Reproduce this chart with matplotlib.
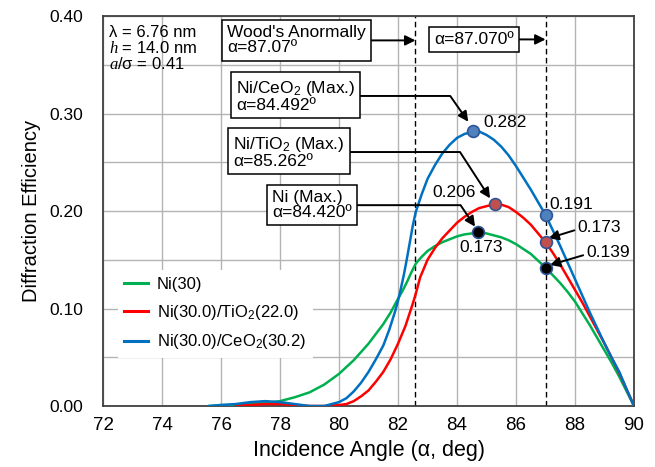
import matplotlib
matplotlib.use('Agg')
import matplotlib.pyplot as plt

plt.rcParams['font.family'] = ['Liberation Sans', 'DejaVu Sans']
plt.rcParams['mathtext.fontset'] = 'custom'
plt.rcParams['mathtext.rm'] = 'Liberation Sans'
plt.rcParams['mathtext.it'] = 'Liberation Serif:italic'

#   Curves (incidence angle in deg, efficiency)
ni_x = [75.6, 76.0, 76.5, 77.0, 77.5, 78.0, 78.5, 79.0, 79.5, 80.0, 80.5, 81.0,
        81.5, 81.75, 82.0, 82.15, 82.3, 82.45, 82.6, 82.8, 83.0, 83.25, 83.5, 83.75,
        84.0, 84.25, 84.5, 84.75, 85.0, 85.25, 85.5, 85.75, 86.0, 86.25, 86.5, 86.75,
        87.0, 87.25, 87.5, 87.75, 88.0, 88.25, 88.5, 88.75, 89.0, 89.25, 89.5, 89.75, 90.0]
ni_y = [0.000, 0.001, 0.001, 0.002, 0.003, 0.005, 0.009, 0.014, 0.022, 0.033, 0.047, 0.064,
        0.084, 0.096, 0.110, 0.118, 0.127, 0.137, 0.146, 0.153, 0.159, 0.164, 0.168, 0.171,
        0.174, 0.176, 0.177, 0.178, 0.177, 0.175, 0.173, 0.170, 0.166, 0.161, 0.156, 0.149,
        0.142, 0.134, 0.126, 0.117, 0.107, 0.095, 0.083, 0.070, 0.057, 0.044, 0.030, 0.015, 0.000]

tio2_x = [76.5, 77.0, 77.5, 78.0, 78.5, 79.0, 79.5, 80.0, 80.25, 80.5, 80.75, 81.0,
          81.25, 81.5, 81.75, 82.0, 82.25, 82.5, 82.6, 82.75, 83.0, 83.25, 83.5, 83.75,
          84.0, 84.25, 84.5, 84.75, 85.0, 85.3, 85.5, 85.75, 86.0, 86.25, 86.5, 86.75,
          87.0, 87.25, 87.5, 87.75, 88.0, 88.25, 88.5, 88.75, 89.0, 89.25, 89.5, 89.75, 90.0]
tio2_y = [0.000, 0.001, 0.002, 0.002, 0.001, 0.000, 0.000, 0.001, 0.002, 0.005, 0.010, 0.016,
          0.025, 0.035, 0.048, 0.064, 0.082, 0.105, 0.115, 0.132, 0.150, 0.162, 0.172, 0.180,
          0.188, 0.194, 0.199, 0.203, 0.205, 0.207, 0.2065, 0.204, 0.199, 0.193, 0.186, 0.177,
          0.168, 0.157, 0.145, 0.132, 0.119, 0.106, 0.092, 0.078, 0.064, 0.049, 0.034, 0.017, 0.000]

ceo2_x = [75.6, 76.0, 76.5, 77.0, 77.5, 78.0, 78.5, 79.0, 79.5, 80.0, 80.25, 80.5,
          80.75, 81.0, 81.25, 81.5, 81.7, 81.9, 82.0, 82.1, 82.2, 82.3, 82.4, 82.5,
          82.6, 82.8, 83.0, 83.25, 83.5, 83.75, 84.0, 84.25, 84.5, 84.6, 84.75, 85.0,
          85.25, 85.5, 85.75, 86.0, 86.25, 86.5, 86.75, 87.0, 87.25, 87.5, 87.75, 88.0,
          88.25, 88.5, 88.75, 89.0, 89.25, 89.5, 89.75, 90.0]
ceo2_y = [0.000, 0.001, 0.002, 0.004, 0.005, 0.004, 0.002, 0.000, 0.000, 0.004, 0.008, 0.015,
          0.024, 0.035, 0.048, 0.062, 0.078, 0.097, 0.108, 0.121, 0.135, 0.151, 0.168, 0.185,
          0.199, 0.217, 0.233, 0.247, 0.259, 0.268, 0.275, 0.279, 0.281, 0.282, 0.2815, 0.278,
          0.273, 0.266, 0.257, 0.246, 0.234, 0.222, 0.209, 0.196, 0.180, 0.164, 0.147, 0.130,
          0.113, 0.096, 0.080, 0.064, 0.049, 0.035, 0.017, 0.000]

labels = ['Ni(30)', 'Ni(30.0)/TiO$_2$(22.0)', 'Ni(30.0)/CeO$_2$(30.2)']
colors = ['#00b050', '#ff0000', '#0070c0']

#   Marked points: maxima and values at the second dashed line
max_x = [84.55, 85.3, 84.7]          # CeO2, TiO2, Ni
max_y = [0.282, 0.207, 0.178]
wood_x = [87.0, 87.0, 87.0]
wood_y = [0.196, 0.168, 0.1415]
mark_fill = ['#4f81bd', '#c0504d', 'black']

#   Dashed guides
guide_x = [82.59, 87.0]

fig = plt.figure(figsize=(6.55, 4.67), dpi=100)
ax = fig.add_axes([0.1573, 0.1306, 0.8107, 0.8351])

ax.set_xlim(72, 90)
ax.set_ylim(0, 0.40)
ax.set_xticks(range(72, 91, 2))
ax.set_yticks([0.0, 0.1, 0.2, 0.3, 0.4])
ax.set_yticks([0.05, 0.15, 0.25, 0.35], minor=True)
ax.set_yticklabels(['0.00', '0.10', '0.20', '0.30', '0.40'])
ax.grid(True, which='both', color='#b4b4b4', lw=1)
ax.set_axisbelow(True)
ax.tick_params(axis='both', which='both', length=0)
ax.tick_params(axis='x', labelsize=13.5, pad=8)
ax.tick_params(axis='y', labelsize=12.5, pad=14)
for s in ax.spines.values():
    s.set_color('#404040')
    s.set_linewidth(1.3)

ax.set_xlabel('Incidence Angle (\u03b1, deg)', fontsize=15.5, labelpad=4)
ax.set_ylabel('Diffraction Efficiency', fontsize=14.5, labelpad=6)

for gx in guide_x:
    ax.axvline(gx, color='black', lw=1, ls=(0, (4, 2.5)), zorder=2)

ax.plot(ni_x, ni_y, color=colors[0], lw=1.8, label=labels[0], zorder=3)
ax.plot(tio2_x, tio2_y, color=colors[1], lw=1.8, label=labels[1], zorder=3)
ax.plot(ceo2_x, ceo2_y, color=colors[2], lw=1.8, label=labels[2], zorder=3)

for i in range(3):
    ax.plot(max_x[i], max_y[i], 'o', ms=8.5, mfc=mark_fill[i], mec='#2f5597', mew=1.2, zorder=5)
    ax.plot(wood_x[i], wood_y[i], 'o', ms=8.5, mfc=mark_fill[i], mec='#2f5597', mew=1.2, zorder=5)

leg = ax.legend(loc='upper left', bbox_to_anchor=(0.012, 0.37), fontsize=12,
                handlelength=1.4, handletextpad=0.55, labelspacing=0.65,
                frameon=True, fancybox=False, borderpad=0.4)
leg.get_frame().set_edgecolor('none')
leg.get_frame().set_facecolor('white')
leg.get_frame().set_alpha(1)
for h in leg.get_lines():
    h.set_linewidth(2.2)

#   Parameters in the top left corner
ax.text(0.012, 0.958, '\u03bb = 6.76 nm', transform=ax.transAxes, fontsize=12, va='center')
ax.text(0.012, 0.917, '$h$ = 14.0 nm', transform=ax.transAxes, fontsize=12, va='center')
ax.text(0.012, 0.876, '$a$/\u03c3 = 0.41', transform=ax.transAxes, fontsize=12, va='center')

box = dict(boxstyle='square,pad=0.3', fc='white', ec='black', lw=1.1)
arrow = dict(arrowstyle='-|>', color='black', lw=1.4, shrinkA=0, shrinkB=0, mutation_scale=15)

ax.annotate("Wood's Anormally\n\u03b1=87.07\u00ba", xy=(guide_x[0], 0.375), xytext=(76.2, 0.375),
            ha='left', va='center', fontsize=12.5, linespacing=1.0, bbox=box, arrowprops=arrow, zorder=6)
ax.annotate('\u03b1=87.070\u00ba', xy=(guide_x[1], 0.376), xytext=(84.58, 0.376),
            ha='center', va='center', fontsize=12.5, bbox=box, arrowprops=arrow, zorder=6)

ax.annotate('Ni/CeO$_2$ (Max.)\n\u03b1=84.492\u00ba', xy=(84.38, 0.2916), xytext=(76.5, 0.318),
            ha='left', va='center', fontsize=12.5, linespacing=1.0, bbox=box, zorder=6,
            arrowprops=dict(arrow, connectionstyle='angle,angleA=0,angleB=-55,rad=0'))
ax.annotate('Ni/TiO$_2$ (Max.)\n\u03b1=85.262\u00ba', xy=(85.12, 0.213), xytext=(76.4, 0.2605),
            ha='left', va='center', fontsize=12.5, linespacing=1.0, bbox=box, zorder=6,
            arrowprops=dict(arrow, connectionstyle='angle,angleA=0,angleB=-57,rad=0'))
ax.annotate('Ni (Max.)\n\u03b1=84.420\u00ba', xy=(84.61, 0.184), xytext=(77.73, 0.206),
            ha='left', va='center', fontsize=12.5, linespacing=1.0, bbox=box, zorder=6,
            arrowprops=dict(arrow, connectionstyle='angle,angleA=0,angleB=-56,rad=0'))

#   Value labels
ax.text(84.88, 0.2906, '0.282', fontsize=12.5, va='center')
ax.text(83.15, 0.2185, '0.206', fontsize=12.5, va='center')
ax.text(84.07, 0.163, '0.173', fontsize=12.5, va='center')
ax.text(87.12, 0.207, '0.191', fontsize=12.5, va='center')
ax.annotate('0.173', xy=(87.10, 0.172), xytext=(88.07, 0.1826), fontsize=12.5, va='center',
            ha='left', arrowprops=dict(arrow, relpos=(0, 0.4)))
ax.annotate('0.139', xy=(87.15, 0.1446), xytext=(88.37, 0.157), fontsize=12.5, va='center',
            ha='left', arrowprops=dict(arrow, relpos=(0, 0.4)))

fig.savefig('out.png', dpi=100)
